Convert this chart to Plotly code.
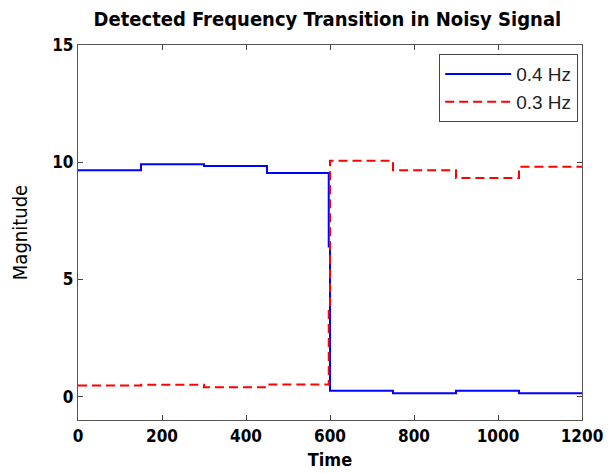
import plotly.graph_objects as go

# Step breakpoints (time) and magnitudes for each detected frequency
time_pts = [0, 150, 300, 450, 597, 600, 750, 900, 1050, 1200]
mag_04hz = [9.66, 9.91, 9.84, 9.54, 6.4, 0.25, 0.14, 0.25, 0.14, 0.14]
mag_03hz = [0.47, 0.50, 0.40, 0.51, 3.7, 10.06, 9.66, 9.33, 9.80, 9.80]

x_ticks = [0, 200, 400, 600, 800, 1000, 1200]
y_ticks = [0, 5, 10, 15]

fig = go.Figure()
fig.add_trace(go.Scatter(x=time_pts, y=mag_04hz, mode="lines", name="0.4 Hz",
                         line=dict(color="#0000ff", width=2, shape="hv")))
fig.add_trace(go.Scatter(x=time_pts, y=mag_03hz, mode="lines", name="0.3 Hz",
                         line=dict(color="#ff0000", width=2, shape="hv", dash="9px,5px")))

narrow = "DejaVu Sans Condensed, Liberation Sans Narrow, Arial Narrow, Liberation Sans, sans-serif"
# page body adds an 8px offset, so the figure is sized/margined to compensate
fig.update_layout(
    width=606, height=465,
    margin=dict(l=70, r=32, t=37, b=53),
    paper_bgcolor="white", plot_bgcolor="white",
    title=dict(text="<b>Detected Frequency Transition in Noisy Signal</b>",
               x=0.527, xanchor="center", y=0.977, yanchor="middle",
               font=dict(family=narrow, size=20, color="black")),
    xaxis=dict(range=[0, 1200], tickvals=x_ticks, ticks="inside", ticklen=5,
               showline=True, linecolor="#555", linewidth=1.2, mirror="ticks",
               showgrid=False, zeroline=False, automargin=False,
               tickfont=dict(family=narrow, size=17, color="black", weight="bold"),
               title=dict(text="<b>Time</b>", font=dict(family=narrow, size=18, color="black"),
                          standoff=8)),
    yaxis=dict(range=[-1, 15], tickvals=y_ticks, ticks="inside", ticklen=5,
               showline=True, linecolor="#555", linewidth=1.2, mirror="ticks",
               showgrid=False, zeroline=False, automargin=False,
               tickfont=dict(family=narrow, size=17, color="black", weight="bold"),
               title=dict(text="Magnitude", font=dict(family=narrow, size=20, color="black"),
                          standoff=20)),
    legend=dict(x=0.992, y=0.976, xanchor="right", yanchor="top",
                bgcolor="white", bordercolor="#444", borderwidth=1.2,
                itemwidth=66, tracegroupgap=0,
                font=dict(family="Liberation Sans, Arial, sans-serif", size=19, color="#222")),
    showlegend=True,
)

fig.write_html("out.html")
